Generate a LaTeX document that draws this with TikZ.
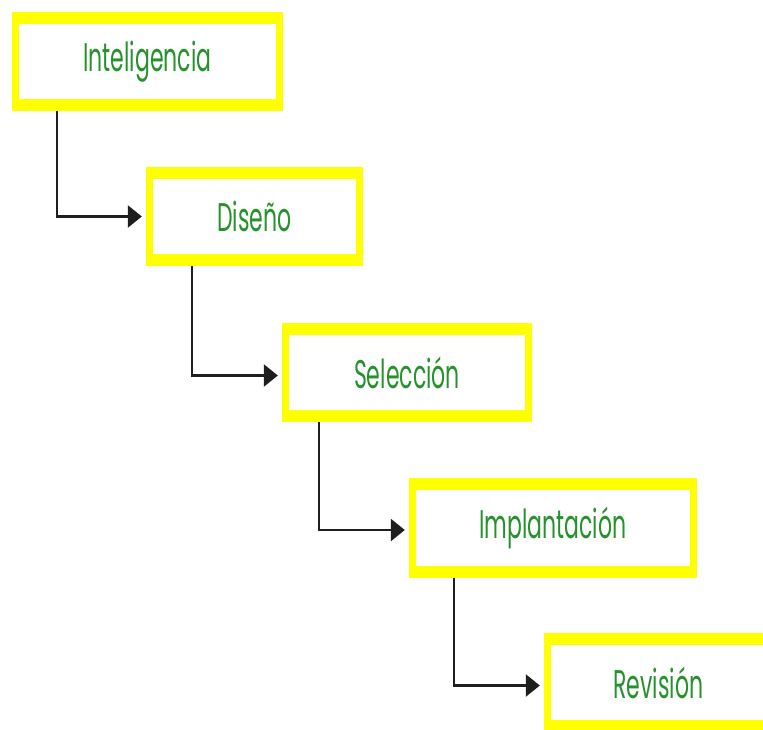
\documentclass[tikz,border=0pt]{standalone}
\usepackage{fontspec}
\setmainfont{Poppins}
\usetikzlibrary{arrows.meta}
\definecolor{boxyellow}{RGB}{255,255,0}
\definecolor{labelgreen}{RGB}{38,146,44}
\definecolor{linkgray}{RGB}{30,30,30}
\newcommand{\steplabel}[1]{\scalebox{0.55}[1]{\fontsize{40}{44}\selectfont #1}}
\tikzset{
  stagebox/.style={
    fill=boxyellow, inner sep=0pt, text=labelgreen,
    path picture={\fill[white]
      ([shift={(7pt,-12pt)}]path picture bounding box.north west) rectangle
      ([shift={(-7pt,12pt)}]path picture bounding box.south east);}
  },
  link/.style={draw=linkgray, line width=2.6pt,
    -{Triangle[length=14pt,width=22pt]}, shorten >=4pt}
}
\begin{document}
\begin{tikzpicture}[x=1pt,y=-1pt]
\useasboundingbox (0,0) rectangle (763,729);
\node[stagebox, minimum width=271pt, minimum height=99pt] (intel) at (147.5,61.5) {\steplabel{Inteligencia}};
\node[stagebox, minimum width=217pt, minimum height=99pt] (dis) at (254.5,216.5) {\steplabel{Diseño}};
\node[stagebox, minimum width=250pt, minimum height=99pt] (sel) at (407,372.5) {\steplabel{Selección}};
\node[stagebox, minimum width=288pt, minimum height=100pt] (imp) at (553,528) {\steplabel{Implantación}};
\node[stagebox, minimum width=229pt, minimum height=99pt] (rev) at (658.5,682.5) {\steplabel{Revisión}};
\draw[link] ([xshift=45pt]intel.south west) |- (dis.west);
\draw[link] ([xshift=46pt]dis.south west) |- ([yshift=-3pt]sel.west);
\draw[link] ([xshift=37pt]sel.south west) |- ([yshift=-2pt]imp.west);
\draw[link] ([xshift=45pt]imp.south west) |- ([yshift=-3pt]rev.west);
\end{tikzpicture}
\end{document}
